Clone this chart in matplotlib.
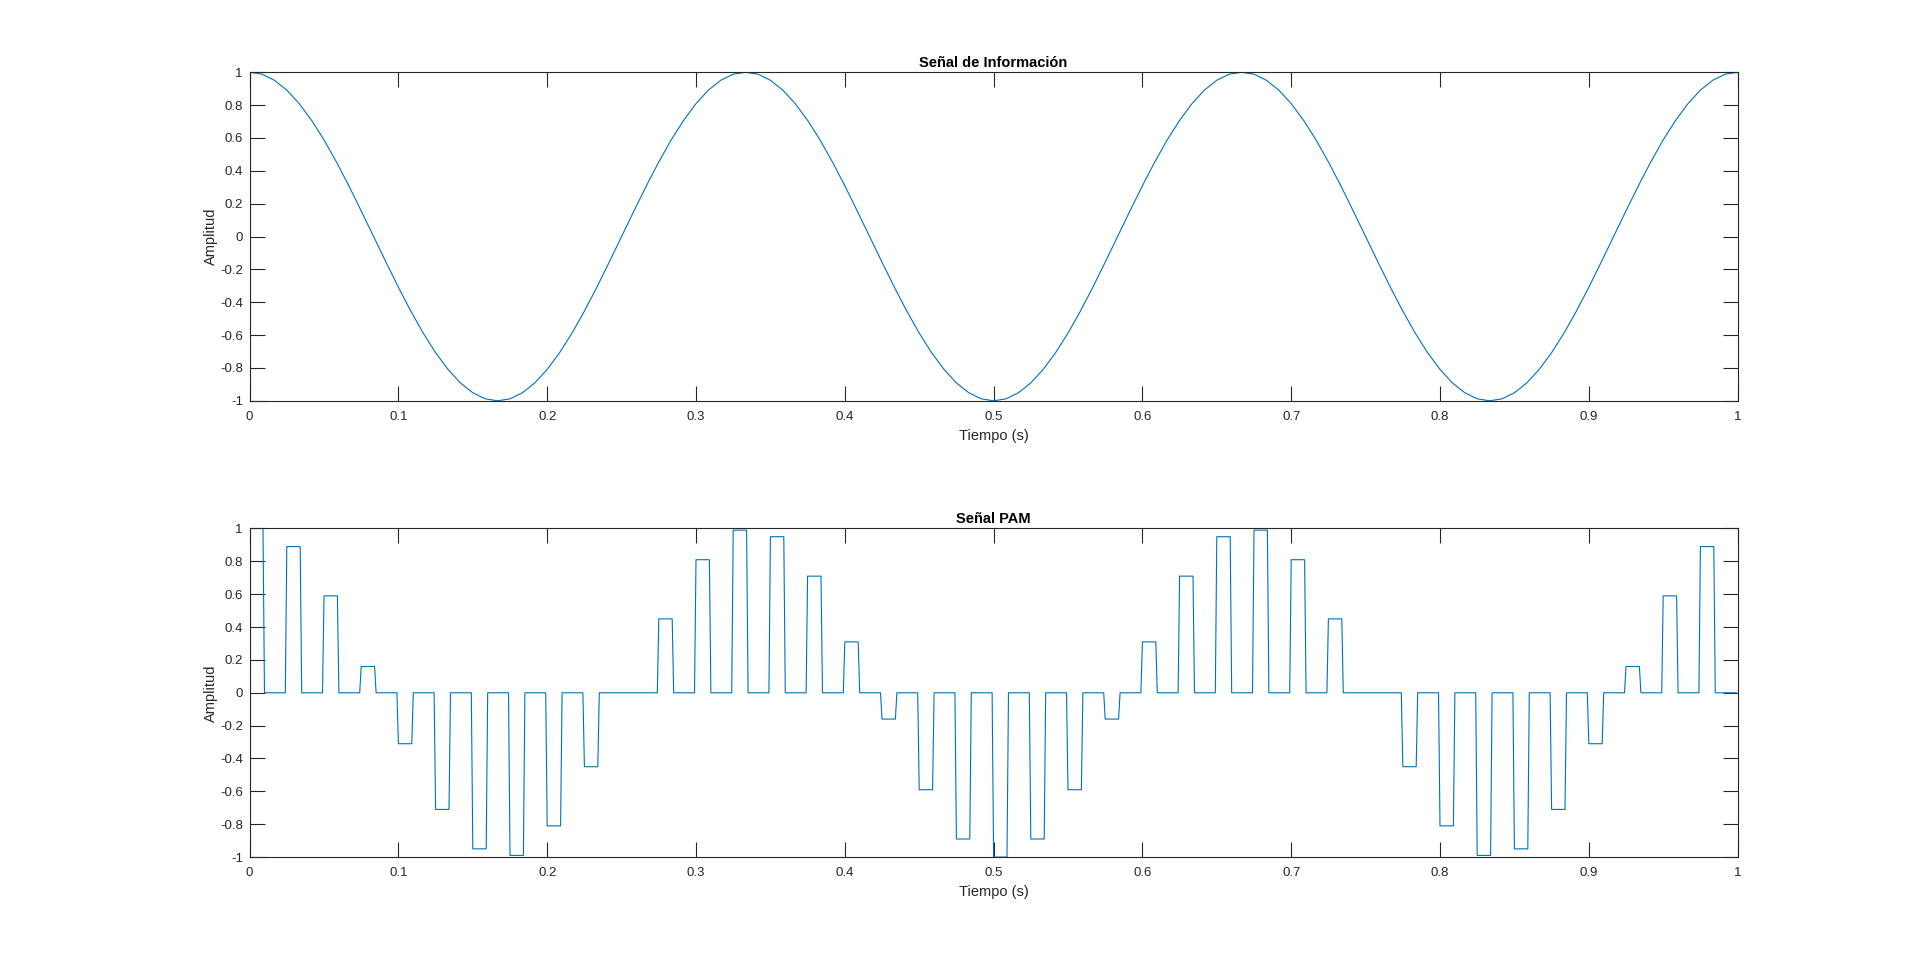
import matplotlib
matplotlib.use('Agg')
import matplotlib.pyplot as plt
import numpy as np

plt.rcParams['font.family'] = ['Liberation Sans', 'DejaVu Sans']
plt.rcParams['axes.unicode_minus'] = False

# Señal de información, leída cada 1/120 s (t = 0 ... 1)
info_dt = 1 / 120
info_amp = [
    1.000, 0.988, 0.951, 0.891, 0.809, 0.707, 0.588, 0.454, 0.309, 0.156,
    0.000, -0.156, -0.309, -0.454, -0.588, -0.707, -0.809, -0.891, -0.951, -0.988,
    -1.000, -0.988, -0.951, -0.891, -0.809, -0.707, -0.588, -0.454, -0.309, -0.156,
    0.000, 0.156, 0.309, 0.454, 0.588, 0.707, 0.809, 0.891, 0.951, 0.988,
    1.000, 0.988, 0.951, 0.891, 0.809, 0.707, 0.588, 0.454, 0.309, 0.156,
    0.000, -0.156, -0.309, -0.454, -0.588, -0.707, -0.809, -0.891, -0.951, -0.988,
    -1.000, -0.988, -0.951, -0.891, -0.809, -0.707, -0.588, -0.454, -0.309, -0.156,
    0.000, 0.156, 0.309, 0.454, 0.588, 0.707, 0.809, 0.891, 0.951, 0.988,
    1.000, 0.988, 0.951, 0.891, 0.809, 0.707, 0.588, 0.454, 0.309, 0.156,
    0.000, -0.156, -0.309, -0.454, -0.588, -0.707, -0.809, -0.891, -0.951, -0.988,
    -1.000, -0.988, -0.951, -0.891, -0.809, -0.707, -0.588, -0.454, -0.309, -0.156,
    0.000, 0.156, 0.309, 0.454, 0.588, 0.707, 0.809, 0.891, 0.951, 0.988,
    1.000,
]

# Señal PAM: un pulso cada 25 ms
pam_period = 0.025
pam_high = 0.009     # duración del nivel alto
pam_edge = 0.001     # duración del flanco
pam_end = 0.999
pam_values = [
    1.00, 0.89, 0.59, 0.16, -0.31, -0.71, -0.95, -0.99, -0.81, -0.45,
    0.00, 0.45, 0.81, 0.99, 0.95, 0.71, 0.31, -0.16, -0.59, -0.89,
    -1.00, -0.89, -0.59, -0.16, 0.31, 0.71, 0.95, 0.99, 0.81, 0.45,
    0.00, -0.45, -0.81, -0.99, -0.95, -0.71, -0.31, 0.16, 0.59, 0.89,
]

yticks = [-1, -0.8, -0.6, -0.4, -0.2, 0, 0.2, 0.4, 0.6, 0.8, 1]
ytick_labels = ['-1', '-0.8', '-0.6', '-0.4', '-0.2', '0', '0.2', '0.4', '0.6', '0.8', '1']
xticks = [0, 0.1, 0.2, 0.3, 0.4, 0.5, 0.6, 0.7, 0.8, 0.9, 1]
xtick_labels = ['0', '0.1', '0.2', '0.3', '0.4', '0.5', '0.6', '0.7', '0.8', '0.9', '1']

line_color = '#0072BD'
axis_color = '#262626'

t_info = np.arange(len(info_amp)) * info_dt

# vertices del tren de pulsos
t_pam, y_pam = [], []
for n, v in enumerate(pam_values):
    t0 = n * pam_period
    if n > 0:
        t_pam.append(t0 - pam_edge)
        y_pam.append(0)
    t_pam += [t0, t0 + pam_high, t0 + pam_high + pam_edge]
    y_pam += [v, v, 0]
t_pam.append(pam_end)
y_pam.append(0)

fig = plt.figure(figsize=(19.2, 9.63), dpi=100)
ax1 = fig.add_axes([0.13, 0.5838, 0.775, 0.3412])
ax2 = fig.add_axes([0.13, 0.11, 0.775, 0.3412])

ax1.plot(t_info, info_amp, color=line_color, lw=0.8)
ax2.plot(t_pam, y_pam, color=line_color, lw=0.8)

for ax, title in [(ax1, 'Señal de Información'), (ax2, 'Señal PAM')]:
    ax.set_xlim(0, 1)
    ax.set_ylim(-1, 1)
    ax.set_xticks(xticks)
    ax.set_xticklabels(xtick_labels)
    ax.set_yticks(yticks)
    ax.set_yticklabels(ytick_labels)
    ax.tick_params(direction='in', length=10.5, width=0.8, top=True, right=True,
                   labelsize=9.5, colors=axis_color)
    ax.tick_params(axis='x', pad=7)
    ax.tick_params(axis='y', pad=4.8)
    for s in ax.spines.values():
        s.set_color(axis_color)
        s.set_linewidth(0.8)
    ax.set_title(title, fontsize=10.5, fontweight='bold', color='black', pad=4)
    ax.set_xlabel('Tiempo (s)', fontsize=10.5, color=axis_color, labelpad=4.5)
    ax.set_ylabel('Amplitud', fontsize=10.5, color=axis_color, labelpad=1.5)

fig.savefig('out.png', dpi=100, facecolor='white')
